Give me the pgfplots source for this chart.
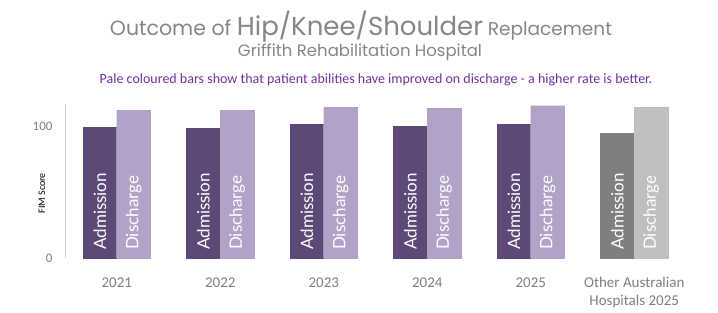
\documentclass[border=0pt]{standalone}
\usepackage{pgfplots}
\pgfplotsset{compat=1.18}
\usepackage{fontspec}
\setmainfont{Carlito}
\newfontfamily\gothic{Poppins}
\newfontfamily\barfont{Lato}
\definecolor{adm}{HTML}{5E4878}
\definecolor{dis}{HTML}{B3A2C7}
\definecolor{oadm}{HTML}{7F7F7F}
\definecolor{odis}{HTML}{BFBFBF}
\definecolor{txt}{HTML}{7F7F7F}
\definecolor{titlec}{HTML}{868686}
\definecolor{note}{HTML}{7030A0}
\pgfplotstableread{
x adm dis
0 99.3 112.7
1 99.0 112.7
2 101.8 114.8
3 100.5 114.2
4 101.8 116.0
}\griffith
\pgfplotstableread{
x adm dis
5 95.4 114.5
}\others
\begin{document}
\begin{tikzpicture}
\begin{axis}[scale only axis,
  width=621pt, height=154pt, clip=false,
  xmin=-0.5, xmax=5.5, ymin=0, ymax=117.3,
  axis lines=left, axis line style={-},
  x axis line style={draw=none},
  y axis line style={draw=black!18, line width=0.8pt},
  ytick={0,100}, xtick={0,1,2,3,4,5},
  xticklabels={2021,2022,2023,2024,2025,{Other Australian\\Hospitals 2025}},
  major tick length=0,
  /pgf/number format/assume math mode=true,
  yticklabel style={font=\fontsize{13}{15}\selectfont, text=txt, xshift=-9pt},
  xticklabel style={font=\fontsize{15}{18}\selectfont, text=txt, align=center, anchor=north, yshift=-16pt},
  ylabel={FIM Score},
  ylabel style={font=\fontsize{9}{10}\selectfont, text=txt},
  every axis y label/.style={at={(axis description cs:-0.037,0.42)}, rotate=90, anchor=center},
]
\addplot[ybar, bar width=0.325, bar shift=-0.1625, fill=adm, draw=adm] table[x=x,y=adm] {\griffith};
\addplot[ybar, bar width=0.325, bar shift=0.1625, fill=dis, draw=dis] table[x=x,y=dis] {\griffith};
\addplot[ybar, bar width=0.325, bar shift=-0.1625, fill=oadm, draw=oadm] table[x=x,y=adm] {\others};
\addplot[ybar, bar width=0.325, bar shift=0.1625, fill=odis, draw=odis] table[x=x,y=dis] {\others};
\tikzset{blab/.style={rotate=90, anchor=west, text=white, font=\barfont\fontsize{17}{19}\selectfont, inner sep=0pt, xshift=8pt}}
\node[blab] at (axis cs:-0.1625,0) {Admission};
\node[blab] at (axis cs:0.1625,0) {Discharge};
\node[blab] at (axis cs:0.8375,0) {Admission};
\node[blab] at (axis cs:1.1625,0) {Discharge};
\node[blab] at (axis cs:1.8375,0) {Admission};
\node[blab] at (axis cs:2.1625,0) {Discharge};
\node[blab] at (axis cs:2.8375,0) {Admission};
\node[blab] at (axis cs:3.1625,0) {Discharge};
\node[blab] at (axis cs:3.8375,0) {Admission};
\node[blab] at (axis cs:4.1625,0) {Discharge};
\node[blab] at (axis cs:4.8375,0) {Admission};
\node[blab] at (axis cs:5.1625,0) {Discharge};
% page frame and titles, placed relative to the axis corner (65pt,55pt from page corner)
\path ([xshift=-65pt,yshift=-55pt]rel axis cs:0,0) coordinate (pg);
\path (pg) rectangle ([xshift=718pt,yshift=313pt]pg);
\node[anchor=base, text=titlec, inner sep=0pt] at ([xshift=361pt,yshift=277pt]pg) {\gothic{\fontsize{20.5}{24}\selectfont Outcome of }{\fontsize{26}{30}\selectfont Hip/Knee/Shoulder}{\fontsize{18.5}{22}\selectfont\ Replacement}};
\node[anchor=base, text=titlec, inner sep=0pt] at ([xshift=360pt,yshift=256pt]pg) {\gothic\fontsize{16.5}{20}\selectfont Griffith Rehabilitation Hospital};
\node[anchor=base, text=note, inner sep=0pt] at ([xshift=376pt,yshift=229pt]pg) {\fontsize{14}{16}\selectfont Pale coloured bars show that patient abilities have improved on discharge - a higher rate is better.};
\end{axis}
\end{tikzpicture}
\end{document}
